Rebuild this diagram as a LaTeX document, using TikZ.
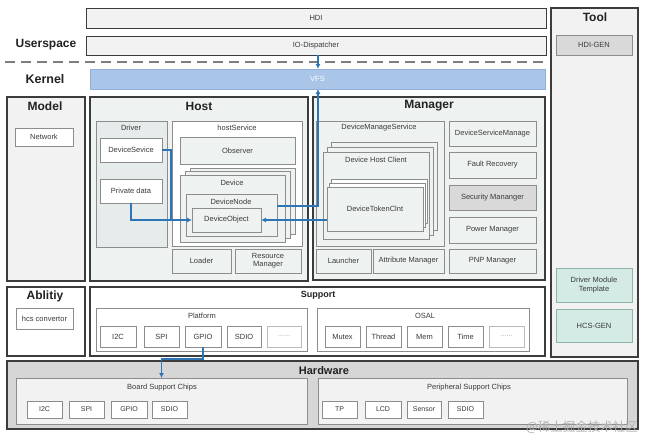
\documentclass[tikz,border=0pt]{standalone}
\usepackage{fontspec}
\setmainfont{Liberation Sans}
\newfontfamily\cjkwm{Noto Sans CJK SC}
\usetikzlibrary{arrows.meta,calc}
\definecolor{dkb}{HTML}{3C3C3C}
\definecolor{gb}{HTML}{8C8C8C}
\definecolor{lg}{HTML}{F2F2F2}
\definecolor{hostbg}{HTML}{EEF3F2}
\definecolor{drvbg}{HTML}{E6ECEB}
\definecolor{midg}{HTML}{D9D9D9}
\definecolor{hwbg}{HTML}{D6D6D6}
\definecolor{vfsc}{HTML}{A9C5E8}
\definecolor{vfsb}{HTML}{8FB1DA}
\definecolor{teal}{HTML}{D3EBE4}
\definecolor{tealb}{HTML}{8DB5AB}
\definecolor{txt}{HTML}{3A3A3A}
\definecolor{ttc}{HTML}{222222}
\definecolor{ablue}{HTML}{2E75B6}
\newcommand\mybox[7]{\node[#6, minimum width={(#4-#2)*1pt}, minimum height={(#5-#3)*1pt}, inner sep=0pt, outer sep=0pt] (#1) at ({(#2+#4)/2},{(#3+#5)/2}) {#7};}
\begin{document}
\begin{tikzpicture}[x=1pt,y=-1pt,
  bar/.style={draw=dkb, line width=1pt, fill=lg, font=\fontsize{7.5}{8}\selectfont, text=txt},
  big/.style={draw=dkb, line width=1.3pt},
  sm/.style={draw=gb, line width=0.6pt, fill=white, font=\fontsize{7.5}{8.5}\selectfont, text=txt, align=center},
  smh/.style={sm, font=\fontsize{7}{8}\selectfont},
  grp/.style={draw=gb, line width=0.6pt},
  ttl/.style={font=\bfseries\fontsize{12}{12}\selectfont, text=ttc, inner sep=0pt},
  lbl/.style={font=\fontsize{7.5}{8}\selectfont, text=txt, inner sep=0pt},
  arr/.style={draw=ablue, line width=1.1pt, -{Latex[length=5pt,width=5pt]}},
  ln/.style={draw=ablue, line width=1.1pt}
]
\useasboundingbox[fill=white] (0,0) rectangle (647,440);

% Userspace / Kernel
\mybox{hdi}{86}{8}{546}{28}{bar}{HDI}
\mybox{io}{86}{36}{546}{55}{bar}{IO-Dispatcher}
\node[ttl] (us) at (46,45) {Userspace};
\coordinate (dl) at (5,62);
\coordinate (dr) at (548,62);
\draw[draw=gb!90!black, line width=1.2pt, dash pattern=on 10pt off 6pt] (dl) -- (dr);
\node[ttl, font=\bfseries\fontsize{12.5}{12}\selectfont] (kn) at (45,79) {Kernel};
\mybox{vfs}{90}{69}{545}{89}{draw=vfsb, line width=0.6pt, fill=vfsc, text=white, font=\fontsize{7.5}{8}\selectfont}{VFS}

% Tool
\mybox{tool}{551}{8}{638}{357}{big, fill=lg}{}
\node[ttl] (toolT) at (595,17) {Tool};
\mybox{hdigen}{556}{35}{632}{55}{sm, fill=midg}{HDI-GEN}
\mybox{dmt}{556}{268}{632}{302}{sm, fill=teal, draw=tealb}{Driver Module\\Template}
\mybox{hcsgen}{556}{309}{632}{342}{sm, fill=teal, draw=tealb}{HCS-GEN}

% Model
\mybox{model}{7}{97}{85}{281}{big, fill=lg}{}
\node[ttl] (modelT) at (45,106) {Model};
\mybox{net}{15}{128}{73}{146}{sm}{Network}

% Host
\mybox{host}{90}{97}{308}{281}{big, fill=hostbg}{}
\node[ttl] (hostT) at (199,106) {Host};
\mybox{drv}{96}{121}{167}{247}{grp, fill=drvbg}{}
\node[lbl] (drvT) at (131,128) {Driver};
\mybox{ds}{100}{138}{162}{162}{sm}{DeviceSevice}
\mybox{pd}{100}{179}{162}{203}{sm}{Private data}
\mybox{hs}{172}{121}{302}{246}{grp, fill=white}{}
\node[lbl] (hsT) at (237,128) {hostService};
\mybox{obs}{180}{137}{295}{164}{sm, fill=hostbg}{Observer}
\mybox{dev3}{190}{168}{295}{234}{grp, fill=hostbg}{}
\mybox{dev2}{185}{171.5}{290}{238}{grp, fill=hostbg}{}
\mybox{dev1}{180}{175}{285}{242}{grp, fill=hostbg}{}
\node[lbl] (devT) at (232,183) {Device};
\mybox{dnode}{186}{194}{277}{236}{grp, fill=hostbg}{}
\node[lbl] (dnodeT) at (231,202) {DeviceNode};
\mybox{dobj}{192}{208}{261}{232}{sm, fill=hostbg}{DeviceObject}
\mybox{loader}{172}{249}{231}{273}{sm, fill=hostbg}{Loader}
\mybox{resm}{235}{249}{301}{273}{sm, fill=hostbg, font=\fontsize{7.5}{8}\selectfont}{Resource\\Manager}

% Manager
\mybox{mgr}{313}{97}{545}{280}{big, fill=hostbg}{}
\node[ttl] (mgrT) at (429,106) {Manager};
\mybox{dms}{316}{121}{444}{246}{grp, fill=hostbg}{}
\node[lbl] (dmsT) at (379,128) {DeviceManageService};
\mybox{dhc3}{331}{142}{437}{230}{grp, fill=hostbg}{}
\mybox{dhc2}{327}{147}{433}{235}{grp, fill=hostbg}{}
\mybox{dhc1}{323}{152}{429}{239}{grp, fill=hostbg}{}
\node[lbl] (dhcT) at (376,160) {Device Host Client};
\mybox{dtc3}{331}{179}{427}{223}{grp, fill=white}{}
\mybox{dtc2}{329}{183}{425}{227}{grp, fill=white}{}
\mybox{dtc}{327}{187}{423}{231}{sm, fill=hostbg}{DeviceTokenClnt}
\mybox{dsm}{449}{121}{536}{146}{sm, fill=hostbg}{DeviceServiceManage}
\mybox{fr}{449}{152}{536}{178}{sm, fill=hostbg}{Fault Recovery}
\mybox{secm}{449}{185}{536}{210}{sm, fill=midg}{Security Mananger}
\mybox{pm}{449}{217}{536}{243}{sm, fill=hostbg}{Power Manager}
\mybox{pnp}{449}{249}{536}{273}{sm, fill=hostbg}{PNP Manager}
\mybox{lau}{316}{249}{371}{273}{sm, fill=hostbg}{Launcher}
\mybox{attr}{373}{249}{444}{273}{sm, fill=hostbg}{Attribute Manager}

% Ability
\mybox{abl}{7}{287}{85}{356}{big, fill=white}{}
\node[ttl] (ablT) at (45,296) {Ablitiy};
\mybox{hcsc}{16}{308}{73}{329}{sm}{hcs convertor}

% Support
\mybox{sup}{90}{287}{545}{356}{big, fill=white}{}
\node[ttl, font=\bfseries\fontsize{9}{9}\selectfont] (supT) at (318,295) {Support};
\mybox{plat}{96}{308}{307}{351}{grp, fill=white}{}
\node[lbl] (platT) at (202,316) {Platform};
\mybox{pi2c}{100}{326}{136}{347}{sm}{I2C}
\mybox{pspi}{144}{326}{179}{347}{sm}{SPI}
\mybox{pgpio}{185}{326}{221}{347}{sm}{GPIO}
\mybox{psdio}{227}{326}{261}{347}{sm}{SDIO}
\mybox{pdots}{267}{326}{301}{347}{sm, text=gb!70, draw=gb!60}{......}
\mybox{osal}{317}{308}{529}{351}{grp, fill=white}{}
\node[lbl] (osalT) at (425,316) {OSAL};
\mybox{mutex}{325}{326}{360}{347}{sm}{Mutex}
\mybox{thread}{366}{326}{401}{347}{sm}{Thread}
\mybox{mem}{407}{326}{442}{347}{sm}{Mem}
\mybox{time}{448}{326}{483}{347}{sm}{Time}
\mybox{odots}{489}{326}{524}{347}{sm, text=gb!70, draw=gb!60}{......}

% Hardware
\mybox{hw}{7}{361}{638}{429}{big, fill=hwbg}{}
\node[ttl, font=\bfseries\fontsize{11}{11}\selectfont] (hwT) at (324,371) {Hardware};
\mybox{bsc}{16}{378}{307}{424}{grp, fill=lg}{}
\node[lbl] (bscT) at (162,388) {Board Support Chips};
\mybox{bi2c}{27}{401}{62}{418}{smh}{I2C}
\mybox{bspi}{69}{401}{104}{418}{smh}{SPI}
\mybox{bgpio}{111}{401}{147}{418}{smh}{GPIO}
\mybox{bsdio}{152}{401}{187}{418}{smh}{SDIO}
\mybox{psc}{318}{378}{627}{424}{grp, fill=lg}{}
\node[lbl] (pscT) at (469,388) {Peripheral Support Chips};
\mybox{tp}{322}{401}{357}{418}{smh}{TP}
\mybox{lcd}{365}{401}{401}{418}{smh}{LCD}
\mybox{sensor}{407}{401}{441}{418}{smh}{Sensor}
\mybox{hsdio}{448}{401}{483}{418}{smh}{SDIO}

% Connectors
\coordinate (vx) at (318,0);
\draw[arr] (io.south -| vx) -- (vfs.north -| vx);
\draw[arr] ([yshift=9pt]dnode.east) -| (vfs.south -| vx);
\draw[arr] (dtc.west |- dobj.east) -- (dobj.east);
\coordinate (jx) at (171,220);
\draw[arr] (ds.east) -| (jx) -- (dobj.west);
\draw[ln] (pd.south) |- (jx);
\coordinate (hmid) at (0,359);
\draw[arr] (pgpio.south) |- (hmid -| bsc.north) -- (bsc.north);

% watermark
\node[font=\cjkwm\fontsize{12.5}{13}\selectfont, text=black!30, inner sep=0pt] (wm) at (582,427) {@稀土掘金技术社区};
\end{tikzpicture}
\end{document}
